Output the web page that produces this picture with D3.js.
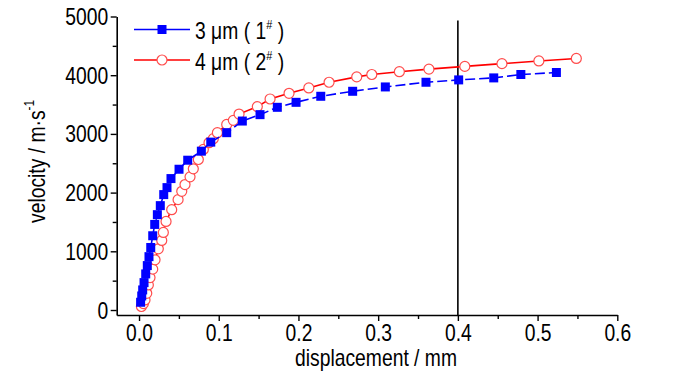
<!DOCTYPE html>
<html>
<head>
<meta charset="utf-8">
<script src="https://cdn.jsdelivr.net/npm/d3@7"></script>
<style>
  body { margin: 0; background: #fff; }
  svg { display: block; }
  text { font-family: "Liberation Sans", Arial, sans-serif; fill: #000; }
</style>
</head>
<body>
<svg id="chart" width="700" height="374"></svg>
<script>
// data
const dispBlue = [0.002, 0.0034, 0.0046, 0.0063, 0.0084, 0.0104, 0.0125, 0.0147, 0.0172, 0.0197, 0.023, 0.0267,
	0.031, 0.0351, 0.0401, 0.0502, 0.0611, 0.0782, 0.09, 0.11, 0.1296, 0.1518, 0.1735, 0.197, 0.228, 0.268,
	0.309, 0.36, 0.401, 0.445, 0.479, 0.5236];
const velBlue = [132, 239, 342, 467, 615, 757, 909, 1065, 1265, 1458, 1624, 1778,
	1966, 2085, 2239, 2398, 2552, 2706, 2860, 3021, 3219, 3328, 3453, 3538, 3641, 3726,
	3800, 3880, 3920, 3954, 4012, 4046];

const dispRed = [0.003, 0.0055, 0.0075, 0.0097, 0.0117, 0.0138, 0.0172, 0.0201, 0.0242, 0.0285, 0.0305, 0.0339,
	0.041, 0.049, 0.0536, 0.0577, 0.064, 0.0681, 0.0744, 0.0807, 0.0878, 0.0932, 0.0983, 0.11, 0.1183, 0.1255,
	0.1484, 0.1644, 0.1882, 0.213, 0.2384, 0.2731, 0.292, 0.3266, 0.3637, 0.4087, 0.4553, 0.5016, 0.5486];
const velRed = [60, 110, 171, 285, 427, 552, 696, 855, 1043, 1185, 1321, 1509,
	1709, 1880, 2022, 2137, 2268, 2405, 2564, 2735, 2850, 2918, 3021, 3162, 3231, 3338,
	3465, 3595, 3692, 3783, 3880, 3971, 4012, 4060, 4103, 4150, 4197, 4243, 4285];

const xTicks = [0, 0.1, 0.2, 0.3, 0.4, 0.5, 0.6];
const xMinor = [0.05, 0.15, 0.25, 0.35, 0.45, 0.55];
const yTicks = [0, 1000, 2000, 3000, 4000, 5000];
const yMinor = [500, 1500, 2500, 3500, 4500];
const markLine = 0.4;

const SX = 0.84; // the original lettering is a bit narrow
const svg = d3.select('#chart');

const x = d3.scaleLinear().domain([-0.028, 0.6]).range([116.7, 617.3]);
const y = d3.scaleLinear().domain([-85, 5000]).range([315, 16.5]);

// axes
const xAxis = svg.append('g').attr('transform', 'translate(0,315)')
	.call(d3.axisBottom(x).tickValues(xTicks).tickFormat(d3.format('.1f')).tickSize(6).tickSizeOuter(0));
svg.append('g').attr('transform', 'translate(0,315)')
	.call(d3.axisBottom(x).tickValues(xMinor).tickFormat('').tickSize(4).tickSizeOuter(0))
	.select('.domain').remove();

const yAxis = svg.append('g').attr('transform', 'translate(116.7,0)')
	.call(d3.axisLeft(y).tickValues(yTicks).tickFormat(d3.format('d')).tickSize(6).tickSizeOuter(0));
svg.append('g').attr('transform', 'translate(116.7,0)')
	.call(d3.axisLeft(y).tickValues(yMinor).tickFormat('').tickSize(4).tickSizeOuter(0))
	.select('.domain').remove();

svg.selectAll('.domain').attr('stroke', '#000').attr('stroke-width', 1.6);
svg.selectAll('.tick line').attr('stroke', '#000').attr('stroke-width', 1.4);

xAxis.selectAll('.tick text')
	.attr('font-size', 23).attr('y', 10)
	.attr('transform', `scale(${SX},1)`);
yAxis.selectAll('.tick text')
	.attr('font-size', 23).attr('x', -10).attr('dy', '0.35em')
	.attr('transform', `scale(${SX},1)`);

// axis titles
svg.append('text')
	.attr('transform', `translate(376,366) scale(${SX},1)`)
	.attr('text-anchor', 'middle')
	.attr('font-size', 23)
	.text('displacement / mm');

const yt = svg.append('text')
	.attr('transform', `translate(45,223) rotate(-90) scale(${SX},1)`)
	.attr('font-size', 23);
yt.append('tspan').text('velocity / m·s');
yt.append('tspan').attr('font-size', 14).attr('dy', -11).text('-1');

// vertical marker at 0.4 mm
svg.append('line')
	.attr('x1', x(markLine)).attr('x2', x(markLine))
	.attr('y1', y(4930)).attr('y2', 315)
	.attr('stroke', '#000').attr('stroke-width', 1.6);

// series
const line = d3.line().x(d => x(d[0])).y(d => y(d[1]));
const blue = dispBlue.map((d, i) => [d, velBlue[i]]);
const red = dispRed.map((d, i) => [d, velRed[i]]);

svg.append('path').datum(red)
	.attr('d', line).attr('fill', 'none')
	.attr('stroke', '#ff0000').attr('stroke-width', 1.6);
svg.selectAll('.redpt').data(red).join('circle')
	.attr('class', 'redpt')
	.attr('cx', d => x(d[0])).attr('cy', d => y(d[1])).attr('r', 5)
	.attr('fill', '#fff').attr('stroke', '#ff4d4d').attr('stroke-width', 1.2);

svg.append('path').datum(blue)
	.attr('d', line).attr('fill', 'none')
	.attr('stroke', '#0000ff').attr('stroke-width', 1.6)
	.attr('stroke-dasharray', '10,4');
svg.selectAll('.bluept').data(blue).join('rect')
	.attr('class', 'bluept')
	.attr('x', d => x(d[0]) - 4.5).attr('y', d => y(d[1]) - 4.5)
	.attr('width', 9).attr('height', 9)
	.attr('fill', '#0000ff');

// legend
const legend = [
	{ y: 29.5, color: '#0000ff', label: '3 μm ( 1', kind: 'square' },
	{ y: 60, color: '#ff0000', label: '4 μm ( 2', kind: 'circle' },
];
legend.forEach((l) => {
	svg.append('line')
		.attr('x1', 134).attr('x2', 190).attr('y1', l.y).attr('y2', l.y)
		.attr('stroke', l.color).attr('stroke-width', 1.6);
	if (l.kind === 'square') {
		svg.append('rect').attr('x', 162 - 4.5).attr('y', l.y - 4.5)
			.attr('width', 9).attr('height', 9).attr('fill', l.color);
	} else {
		svg.append('circle').attr('cx', 162).attr('cy', l.y).attr('r', 5)
			.attr('fill', '#fff').attr('stroke', '#ff4d4d').attr('stroke-width', 1.2);
	}
	const t = svg.append('text')
		.attr('transform', `translate(195,${l.y + 9.5}) scale(${SX},1)`)
		.attr('font-size', 23);
	t.append('tspan').text(l.label);
	t.append('tspan').attr('font-size', 13).attr('dy', -10).text('#');
	t.append('tspan').attr('dy', 10).text(' )');
});
</script>
</body>
</html>
